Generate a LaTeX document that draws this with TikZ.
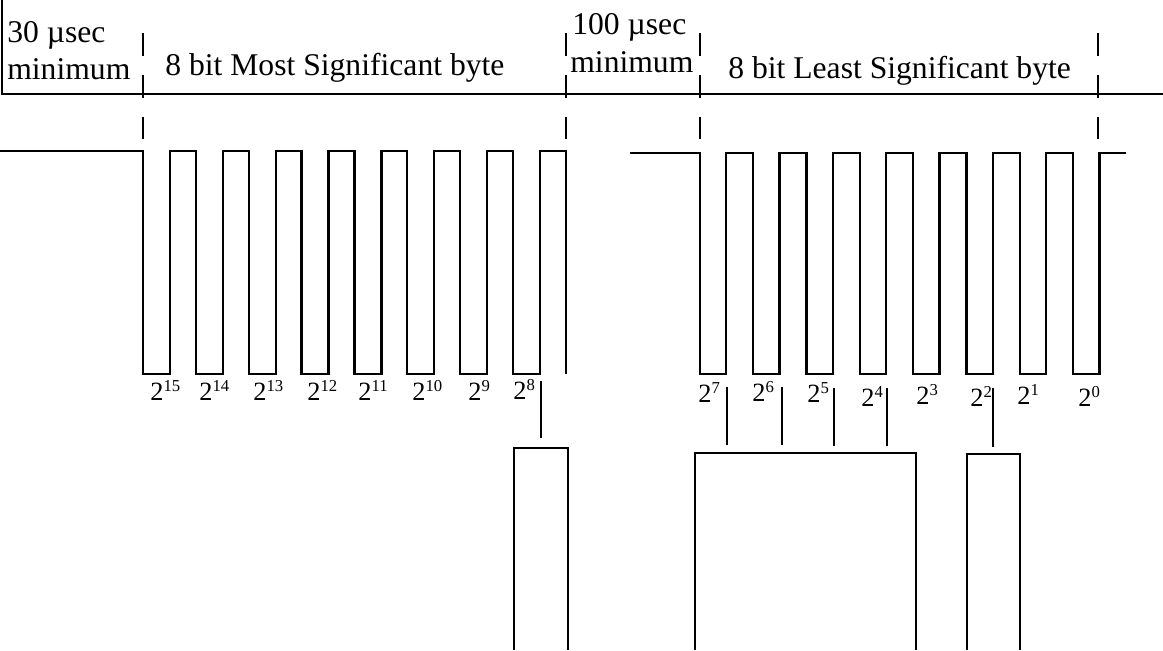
\documentclass[tikz,border=0pt]{standalone}
\usepackage{fontspec}
\setmainfont{Liberation Serif}
\newcommand{\pwr}[1]{2\raisebox{4.8pt}{\fontsize{9.5}{9.5}\selectfont #1}}

\begin{document}
\begin{tikzpicture}[
    x=0.02cm, y=-0.02cm,
    wire/.style={draw=black, line width=1.3pt},
    rule/.style={draw=black, line width=1.6pt},
    tick/.style={draw=black, line width=1.2pt, dash pattern=on 13pt off 10.8pt},
    lbl/.style={font=\fontsize{18}{20}\selectfont, anchor=base west, inner sep=0pt},
    pw/.style={font=\fontsize{15}{17}\selectfont, anchor=base west, inner sep=0pt},
  ]
  \useasboundingbox (0,0) rectangle (1163,650);

  % header bar
  \draw[rule] (2,0) -- (2,94) -- (1163,94);

  % byte boundaries
  \foreach \x in {143,566,700,1098}
    \draw[tick] (\x,33) -- (\x,141);

  % header texts
  \node[lbl] (gapa) at (7,42) {30 µsec};
  \node[lbl] (gapb) at (7,79) {minimum};
  \node[lbl] (msb) at (165,75) {8 bit Most Significant byte};
  \node[lbl] (gapc) at (572,34) {100 µsec};
  \node[lbl] (gapd) at (570,72) {minimum};
  \node[lbl] (lsb) at (728,78) {8 bit Least Significant byte};

  % most significant byte, pulses low
  \draw[wire] (0,151) -- (143,151)
    foreach \k in {0,...,7} { -- ++(0,223) -- ++(27,0) -- ++(0,-223) -- ++(25.86,0) }
    -- ++(0,223);

  % least significant byte
  \draw[wire] (630,153) -- (700,153)
    foreach \k in {0,...,7} { -- ++(0,221) -- ++(26.3,0) -- ++(0,-221) -- ++(27,0) };

  % bit weights
  \foreach \n/\x/\y in {15/150/400, 14/199/400, 13/253/400, 12/307/400,
                        11/358/400, 10/412/400, 9/468/400, 8/513/399,
                        7/698/402, 6/752/401, 5/807/402, 4/861/406,
                        3/916/404, 2/970/406, 1/1017/404, 0/1078/406}
    \node[pw] (p\n) at (\x,\y) {\pwr{\n}};

  % selected bits
  \foreach \n/\x/\ya/\yb in {8/541/381/438, 7/727/387/445, 6/782/387/445,
                             5/834/388/446, 4/887/388/446, 2/993/388/447} {
    \coordinate (up\n) at (\x,\ya);
    \coordinate (dn\n) at (\x,\yb);
    \draw[wire] (up\n) -- (dn\n);
  }

  % output lines
  \draw[wire] (514,650) -- (514,448) -- (568,448) -- (568,650);
  \draw[wire] (695,650) -- (695,453) -- (916,453) -- (916,650);
  \draw[wire] (967,650) -- (967,454) -- (1020,454) -- (1020,650);
\end{tikzpicture}
\end{document}
